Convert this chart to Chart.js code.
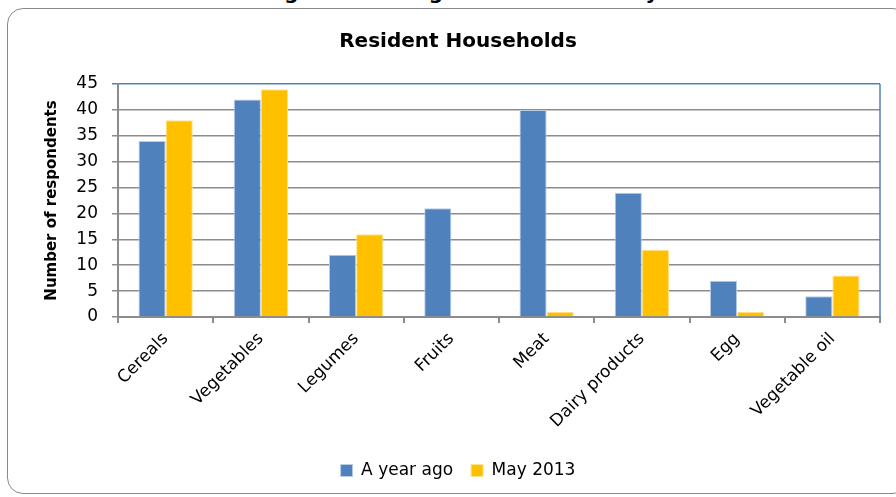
<!DOCTYPE html>
<html lang="en">
<head>
    <meta charset="UTF-8">
    <title>Resident Households</title>
    <script src="https://cdn.jsdelivr.net/npm/chart.js"></script>
    <style>
        body {
            margin: 0;
            width: 896px;
            height: 497px;
            overflow: hidden;
            background: #fff;
            position: relative;
            font-family: "DejaVu Sans", sans-serif;
        }
        .caption {
            position: absolute;
            top: -20px;
            left: 0;
            width: 980px;
            text-align: center;
            font-weight: bold;
            font-size: 20px;
            line-height: 24px;
            color: #000;
            white-space: nowrap;
        }
        .frame {
            position: absolute;
            left: 7px;
            top: 8px;
            width: 900px;
            height: 484px;
            border: 1.5px solid #8a8a8a;
            border-radius: 16px;
        }
        .wrap {
            position: absolute;
            left: 0;
            top: 0;
            width: 896px;
            height: 497px;
        }
    </style>
</head>
<body>
    <div class="caption">Figure 4: Changes in Food Security data</div>
    <div class="frame"></div>
    <div class="wrap"><canvas id="foodChart"></canvas></div>
    <script>
        const categories = ['Cereals', 'Vegetables', 'Legumes', 'Fruits', 'Meat', 'Dairy products', 'Egg', 'Vegetable oil'];
        const yearAgo = [34, 42, 12, 21, 40, 24, 7, 4];
        const may2013 = [38, 44, 16, 0, 1, 13, 1, 8];
        const yMax = 45;
        const yStep = 5;

        const BLUE = '#4F81BD';
        const GOLD = '#FFC000';
        const GRID = '#8c8c8c';
        const PAD = { left: 36, right: 16, top: 0, bottom: 8 };

        // blue right edge of the plot area
        const plotEdge = {
            id: 'plotEdge',
            afterDraw(chart) {
                const { ctx, chartArea } = chart;
                ctx.save();
                ctx.strokeStyle = BLUE;
                ctx.lineWidth = 1.5;
                ctx.beginPath();
                ctx.moveTo(chartArea.right, chartArea.top);
                ctx.lineTo(chartArea.right, chartArea.bottom);
                ctx.stroke();
                ctx.restore();
            }
        };

        const ctx = document.getElementById('foodChart').getContext('2d');
        new Chart(ctx, {
            type: 'bar',
            data: {
                labels: categories,
                datasets: [{
                    label: 'A year ago',
                    data: yearAgo,
                    backgroundColor: BLUE,
                    borderColor: '#b9cde6',
                    borderWidth: 1
                }, {
                    label: 'May 2013',
                    data: may2013,
                    backgroundColor: GOLD,
                    borderColor: '#ffe38a',
                    borderWidth: c => (c.raw === 0 ? 0 : 1)
                }]
            },
            options: {
                responsive: true,
                maintainAspectRatio: false,
                animation: false,
                layout: { padding: PAD },
                datasets: {
                    bar: {
                        categoryPercentage: 0.57,
                        barPercentage: 1
                    }
                },
                plugins: {
                    title: {
                        display: true,
                        text: 'Resident Households',
                        color: '#000',
                        font: { family: 'DejaVu Sans', size: 20, weight: 'bold' },
                        padding: { top: 30, bottom: 30 }
                    },
                    legend: {
                        position: 'bottom',
                        labels: {
                            color: '#000',
                            boxWidth: 12,
                            boxHeight: 12,
                            padding: 18,
                            font: { family: 'DejaVu Sans', size: 17 }
                        }
                    },
                    tooltip: { enabled: false }
                },
                scales: {
                    x: {
                        grid: {
                            offset: true,
                            drawOnChartArea: false,
                            drawTicks: true,
                            tickLength: 6,
                            color: GRID,
                            lineWidth: 2
                        },
                        border: { color: GRID, width: 2 },
                        ticks: {
                            color: '#000',
                            minRotation: 45,
                            maxRotation: 45,
                            padding: 6,
                            font: { family: 'DejaVu Sans', size: 17 }
                        },
                        afterFit(scale) {
                            const chart = scale.chart;
                            scale.height = 497 - 317 - chart.legend.height - PAD.bottom;
                        }
                    },
                    y: {
                        min: 0,
                        max: yMax,
                        grid: {
                            color: c => (c.tick && c.tick.value === yMax ? BLUE : GRID),
                            lineWidth: 1.5,
                            tickLength: 6
                        },
                        border: { color: GRID, width: 2 },
                        ticks: {
                            stepSize: yStep,
                            color: '#000',
                            padding: 14,
                            font: { family: 'DejaVu Sans', size: 17 }
                        },
                        title: {
                            display: true,
                            text: 'Number of respondents',
                            color: '#000',
                            font: { family: 'DejaVu Sans', size: 15, weight: 'bold' },
                            padding: { top: 7, bottom: 0 }
                        },
                        afterFit(scale) {
                            scale.width = 118 - PAD.left;
                        }
                    }
                }
            },
            plugins: [plotEdge]
        });
    </script>
</body>
</html>
